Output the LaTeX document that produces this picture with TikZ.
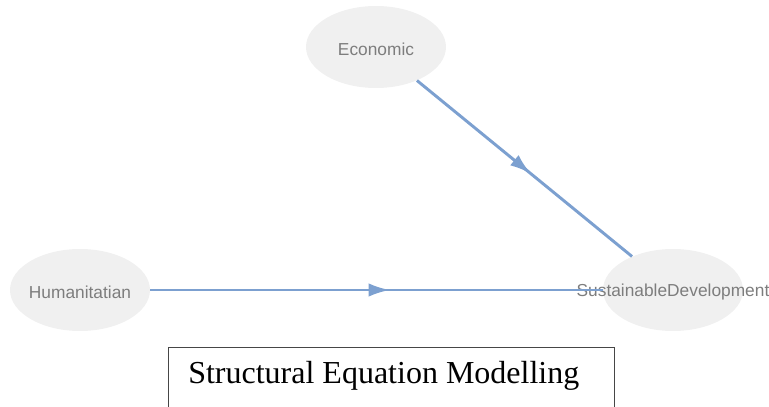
\documentclass[tikz,border=0pt]{standalone}
\usepackage{fontspec}
\setmainfont{Liberation Serif}
\newfontfamily\labelfont{Liberation Sans}
\usepackage{xcolor}
\usetikzlibrary{shapes.geometric,arrows.meta,positioning,calc,decorations.markings}

\definecolor{pathblue}{RGB}{124,160,208}
\definecolor{varfill}{RGB}{240,240,240}
\definecolor{vartext}{RGB}{125,125,125}
\definecolor{boxline}{RGB}{70,70,70}

\begin{document}
\begin{tikzpicture}[
  x=0.75pt, y=-0.75pt,
  latent/.style={ellipse, fill=varfill, draw=none, minimum width=105pt,
                 minimum height=61.5pt, inner sep=0pt,
                 label={[font=\labelfont\fontsize{13}{15}\selectfont, text=vartext,
                         yshift=-1.5pt]center:#1}},
  path/.style={draw=pathblue, line width=2.2pt,
               postaction={decorate},
               decoration={markings, mark=at position 0.53 with
                 {\arrow[pathblue]{Latex[length=16pt, width=10pt]}}}},
  titlebox/.style={rectangle, draw=boxline, line width=1pt, minimum width=334.5pt,
                   minimum height=60pt, inner sep=0pt},
  titletext/.style={font=\fontsize{24}{28}\selectfont, text=black, inner sep=0pt},
]
  \useasboundingbox (0,0) rectangle (769,407);

  % ===== Variables =====
  \node[latent=Economic] (eco) at (376, 47) {};
  \node[latent=Humanitatian] (hum) at (80, 290) {};
  \node[latent=SustainableDevelopment] (sd) at (673, 290) {};

  % ===== Paths =====
  \draw[path] (eco) -- (sd);
  \draw[path] (hum) -- (sd);

  % ===== Caption box (bottom runs off the page) =====
  \node[titlebox, anchor=north west] (capbox) at (168, 347) {};
  \node[titletext, anchor=west] (caption) at ($(capbox.north west)+(20, 29)$)
       {Structural Equation Modelling};

\end{tikzpicture}
\end{document}
